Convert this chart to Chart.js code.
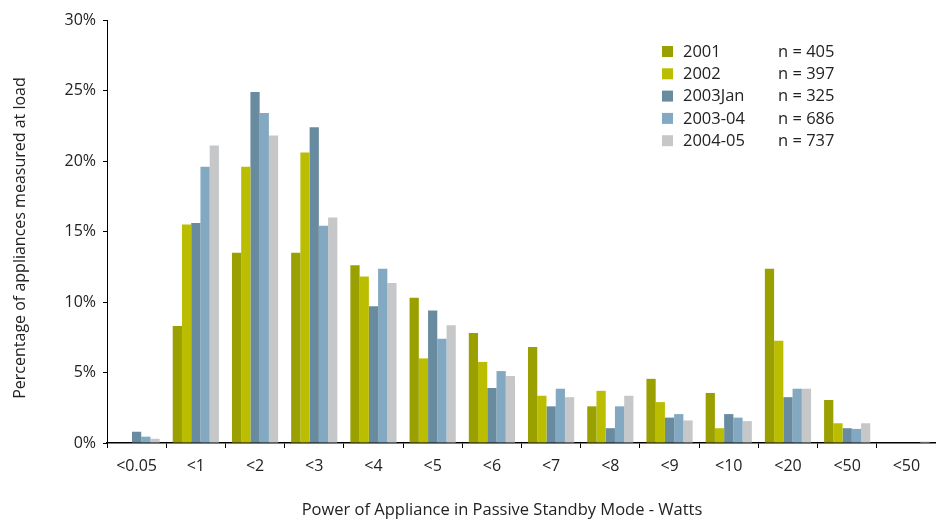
<!DOCTYPE html>
<html>
<head>
    <title>Passive Standby Power</title>
    <script src="https://cdn.jsdelivr.net/npm/chart.js"></script>
    <style>
        body { margin: 0; background: #fff; }
        #wrap { width: 936px; height: 523px; }
    </style>
</head>
<body>
    <div id="wrap"><canvas id="standbyChart" width="936" height="523"></canvas></div>
    <script>
        const categories = ['<0.05', '<1', '<2', '<3', '<4', '<5', '<6', '<7', '<8', '<9', '<10', '<20', '<50', '<50'];
        const seriesNames = ['2001', '2002', '2003Jan', '2003-04', '2004-05'];
        const sampleSizes = ['n = 405', 'n = 397', 'n = 325', 'n = 686', 'n = 737'];
        const colors = ['#9aa000', '#babd00', '#688ba0', '#83a9c2', '#c6c7c9'];

        const v2001   = [0,    8.3,  13.5, 13.5, 12.6, 10.3, 7.8,  6.8,  2.6,  4.55, 3.55, 12.35, 3.05, 0];
        const v2002   = [0,    15.5, 19.6, 20.6, 11.8, 6.0,  5.75, 3.35, 3.7,  2.9,  1.05, 7.25,  1.4,  0];
        const v2003Jan = [0.8, 15.6, 24.9, 22.4, 9.7,  9.4,  3.9,  2.6,  1.05, 1.8,  2.05, 3.25,  1.05, 0];
        const v200304 = [0.45, 19.6, 23.4, 15.4, 12.35, 7.4, 5.1,  3.85, 2.6,  2.05, 1.8,  3.85,  1.0,  0];
        const v200405 = [0.3,  21.1, 21.8, 16.0, 11.35, 8.35, 4.75, 3.25, 3.35, 1.6, 1.55, 3.85,  1.4,  0.1];
        const seriesValues = [v2001, v2002, v2003Jan, v200304, v200405];

        const xTitle = 'Power of Appliance in Passive Standby Mode - Watts';
        const yTitle = 'Percentage of appliances measured at load';

        const fontFamily = '"Open Sans", "Noto Sans", sans-serif';
        const textColor = '#222';

        // legend with sample sizes + axis titles, drawn on the canvas
        const extras = {
            id: 'extras',
            afterDraw(chart) {
                const ctx = chart.ctx;
                ctx.save();
                ctx.font = '16.5px ' + fontFamily;
                ctx.textBaseline = 'middle';
                seriesNames.forEach((name, i) => {
                    const y = 52 + i * 22.3;
                    ctx.fillStyle = colors[i];
                    ctx.fillRect(662, y - 6, 11, 11);
                    ctx.fillStyle = textColor;
                    ctx.fillText(name, 683, y);
                    ctx.fillText(sampleSizes[i], 778, y);
                });

                ctx.textAlign = 'center';
                ctx.fillText(xTitle, 502, 510);

                ctx.font = '16px ' + fontFamily;
                ctx.translate(20, 238);
                ctx.rotate(-Math.PI / 2);
                ctx.fillText(yTitle, 0, 0);
                ctx.restore();
            }
        };

        const ctx = document.getElementById('standbyChart').getContext('2d');
        new Chart(ctx, {
            type: 'bar',
            data: {
                labels: categories,
                datasets: seriesNames.map((name, i) => ({
                    label: name,
                    data: seriesValues[i],
                    backgroundColor: colors[i],
                    borderWidth: 0,
                    barPercentage: 1.0,
                    categoryPercentage: 0.78
                }))
            },
            options: {
                responsive: false,
                animation: false,
                layout: { padding: { top: 20, right: 0, left: 0, bottom: 0 } },
                plugins: {
                    legend: { display: false },
                    tooltip: { enabled: false }
                },
                scales: {
                    x: {
                        grid: { drawOnChartArea: false, tickLength: 5, tickColor: '#000', offset: true },
                        border: { color: '#000', width: 1.5 },
                        ticks: { color: textColor, font: { family: fontFamily, size: 16 }, padding: 9, maxRotation: 0, autoSkip: false },
                        afterFit(scale) { scale.height = 80; }
                    },
                    y: {
                        min: 0,
                        max: 30,
                        ticks: {
                            stepSize: 5,
                            color: textColor,
                            font: { family: fontFamily, size: 16 },
                            padding: 7,
                            callback: v => v + '%'
                        },
                        grid: { drawOnChartArea: false, tickLength: 4, tickColor: '#000' },
                        border: { color: '#000', width: 1 },
                        afterFit(scale) { scale.width = 107; }
                    }
                }
            },
            plugins: [extras]
        });
    </script>
</body>
</html>
